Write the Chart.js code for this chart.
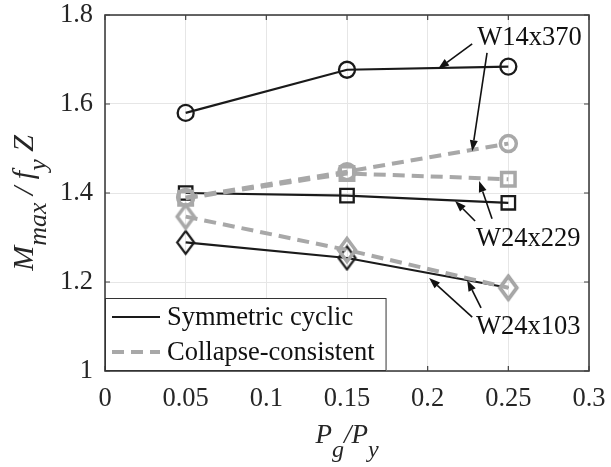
<!DOCTYPE html>
<html lang="en">
<head>
<meta charset="UTF-8">
<title>Mmax / fy Z versus Pg/Py</title>
<script src="https://cdn.jsdelivr.net/npm/chart.js@4.4.1/dist/chart.umd.min.js"></script>
<style>
    body { margin: 0; background: #fff; }
    #wrap { width: 611px; height: 467px; position: relative; }
</style>
</head>
<body>
<div id="wrap"><canvas id="chart"></canvas></div>
<script>
// axial load ratio Pg/Py for each test
const axialRatio = [0.05, 0.15, 0.25];

// Mmax / fy Z per section and loading protocol
const w14x370Sym = [1.580, 1.677, 1.684];
const w14x370Cc  = [1.390, 1.448, 1.511];
const w24x229Sym = [1.400, 1.394, 1.378];
const w24x229Cc  = [1.388, 1.444, 1.431];
const w24x103Sym = [1.289, 1.254, 1.187];
const w24x103Cc  = [1.347, 1.272, 1.187];

const xTicks = [0, 0.05, 0.1, 0.15, 0.2, 0.25, 0.3];
const yTicks = [1, 1.2, 1.4, 1.6, 1.8];

const protocols = ['Symmetric cyclic', 'Collapse-consistent'];
const sections = ['W14x370', 'W24x229', 'W24x103'];

// callouts in data units: label anchor, then arrows [tailX, tailY, headX, headY]
const callouts = [
    { text: 'W14x370', at: [0.2307, 1.748], arrows: [[0.2276, 1.735, 0.2065, 1.679], [0.2368, 1.715, 0.2276, 1.494]] },
    { text: 'W24x229', at: [0.2300, 1.297], arrows: [[0.2294, 1.337, 0.2170, 1.382], [0.2399, 1.342, 0.2319, 1.427]] },
    { text: 'W24x103', at: [0.2300, 1.099], arrows: [[0.2276, 1.121, 0.2009, 1.209], [0.2331, 1.142, 0.2245, 1.204]] }
];

const BLACK = '#1a1a1a';
const GRAY = '#a8a8a8';
const SERIF = '"Liberation Serif", "Times New Roman", serif';
const TEXT_SIZE = 26.5;

function pts(vals) {
    return axialRatio.map((x, i) => ({ x: x, y: vals[i] }));
}

// tall diamond marker, narrower than it is high
function diamond(color, lw) {
    const w = 17, h = 23;
    const c = document.createElement('canvas');
    c.width = w + lw * 2;
    c.height = h + lw * 2;
    const g = c.getContext('2d');
    const cx = c.width / 2, cy = c.height / 2;
    g.strokeStyle = color;
    g.lineWidth = lw;
    g.lineJoin = 'miter';
    g.beginPath();
    g.moveTo(cx, cy - h / 2);
    g.lineTo(cx + w / 2, cy);
    g.lineTo(cx, cy + h / 2);
    g.lineTo(cx - w / 2, cy);
    g.closePath();
    g.stroke();
    return c;
}

function symSet(label, vals, marker, radius) {
    return {
        label: label, data: pts(vals), order: 2,
        borderColor: BLACK, borderWidth: 2.2,
        pointStyle: marker, pointRadius: radius, pointBorderWidth: 2.3,
        pointBorderColor: BLACK, pointBackgroundColor: 'rgba(0,0,0,0)'
    };
}

function ccSet(label, vals, marker, radius) {
    return {
        label: label, data: pts(vals), order: 1,
        borderColor: GRAY, borderWidth: 4, borderDash: [12, 7],
        pointStyle: marker, pointRadius: radius, pointBorderWidth: 3.5,
        pointBorderColor: GRAY, pointBackgroundColor: 'rgba(0,0,0,0)'
    };
}

const datasets = [
    symSet(protocols[0] + ' ' + sections[0], w14x370Sym, 'circle', 8),
    ccSet(protocols[1] + ' ' + sections[0], w14x370Cc, 'circle', 8),
    symSet(protocols[0] + ' ' + sections[1], w24x229Sym, 'rect', 9.5),
    ccSet(protocols[1] + ' ' + sections[1], w24x229Cc, 'rect', 9.5),
    symSet(protocols[0] + ' ' + sections[2], w24x103Sym, diamond(BLACK, 2.2), 10),
    ccSet(protocols[1] + ' ' + sections[2], w24x103Cc, diamond(GRAY, 3.5), 10)
];

// draws a run of text pieces, some of them lowered as subscripts
function richText(ctx, parts, x, y, size, subSize, drop) {
    let total = 0;
    parts.forEach(p => {
        ctx.font = 'italic ' + (p.sub ? subSize : size) + 'px ' + SERIF;
        p.w = ctx.measureText(p.t).width;
        total += p.w;
    });
    let cx = x - total / 2;
    parts.forEach(p => {
        ctx.font = 'italic ' + (p.sub ? subSize : size) + 'px ' + SERIF;
        ctx.fillText(p.t, cx, y + (p.sub ? drop : 0));
        cx += p.w;
    });
}

function arrow(ctx, x1, y1, x2, y2) {
    const a = Math.atan2(y2 - y1, x2 - x1);
    const len = 11, half = 4;
    const bx = x2 - len * Math.cos(a), by = y2 - len * Math.sin(a);
    ctx.beginPath();
    ctx.moveTo(x1, y1);
    ctx.lineTo(bx, by);
    ctx.stroke();
    ctx.beginPath();
    ctx.moveTo(x2, y2);
    ctx.lineTo(bx - half * Math.sin(a), by + half * Math.cos(a));
    ctx.lineTo(bx + half * Math.sin(a), by - half * Math.cos(a));
    ctx.closePath();
    ctx.fill();
}

const decorations = {
    id: 'decorations',
    afterDatasetsDraw(chart) {
        const ctx = chart.ctx;
        const area = chart.chartArea;
        const xs = chart.scales.x, ys = chart.scales.y;
        ctx.save();

        // inward tick marks on all four sides, then the box
        ctx.strokeStyle = '#404040';
        ctx.lineWidth = 1.2;
        const tl = 5;
        ctx.beginPath();
        xTicks.forEach(v => {
            const px = xs.getPixelForValue(v);
            ctx.moveTo(px, area.bottom); ctx.lineTo(px, area.bottom - tl);
            ctx.moveTo(px, area.top); ctx.lineTo(px, area.top + tl);
        });
        yTicks.forEach(v => {
            const py = ys.getPixelForValue(v);
            ctx.moveTo(area.left, py); ctx.lineTo(area.left + tl, py);
            ctx.moveTo(area.right, py); ctx.lineTo(area.right - tl, py);
        });
        ctx.stroke();
        ctx.lineWidth = 1.6;
        ctx.strokeRect(area.left, area.top, area.right - area.left, area.bottom - area.top);

        // legend in the lower left corner
        ctx.font = TEXT_SIZE + 'px ' + SERIF;
        const textW = Math.max(...protocols.map(t => ctx.measureText(t).width));
        const sample = 48, padL = 7, gap = 7, padR = 12, rowH = 35;
        const lw = padL + sample + gap + textW + padR;
        const lh = 73;
        const lx = area.left, ly = area.bottom - lh;
        ctx.fillStyle = '#fff';
        ctx.fillRect(lx, ly, lw, lh);
        ctx.strokeStyle = '#333';
        ctx.lineWidth = 1;
        ctx.strokeRect(lx + 0.5, ly + 0.5, lw - 1, lh - 1);
        protocols.forEach((t, i) => {
            const cy = ly + 19 + i * rowH;
            const ds = datasets[i];
            ctx.strokeStyle = ds.borderColor;
            ctx.lineWidth = ds.borderWidth;
            ctx.setLineDash(ds.borderDash || []);
            ctx.beginPath();
            ctx.moveTo(lx + padL, cy);
            ctx.lineTo(lx + padL + sample, cy);
            ctx.stroke();
            ctx.setLineDash([]);
            ctx.fillStyle = '#111';
            ctx.textBaseline = 'middle';
            ctx.textAlign = 'left';
            ctx.fillText(t, lx + padL + sample + gap, cy + 1);
        });

        // section callouts with arrows
        ctx.fillStyle = '#111';
        ctx.strokeStyle = '#111';
        ctx.lineWidth = 1.6;
        ctx.textBaseline = 'middle';
        callouts.forEach(c => {
            ctx.font = TEXT_SIZE + 'px ' + SERIF;
            ctx.fillText(c.text, xs.getPixelForValue(c.at[0]), ys.getPixelForValue(c.at[1]));
            c.arrows.forEach(a => {
                arrow(ctx, xs.getPixelForValue(a[0]), ys.getPixelForValue(a[1]),
                      xs.getPixelForValue(a[2]), ys.getPixelForValue(a[3]));
            });
        });
        ctx.restore();
    },
    afterDraw(chart) {
        const ctx = chart.ctx;
        const area = chart.chartArea;
        ctx.save();
        ctx.fillStyle = '#262626';
        ctx.textBaseline = 'alphabetic';
        ctx.textAlign = 'left';
        // x axis title: Pg/Py
        richText(ctx, [{ t: 'P' }, { t: 'g', sub: true }, { t: '/P' }, { t: 'y', sub: true }],
                 (area.left + area.right) / 2, 443, 27, 24, 14);
        // y axis title: Mmax / fy Z
        ctx.translate(33, (area.top + area.bottom) / 2 + 10);
        ctx.rotate(-Math.PI / 2);
        richText(ctx, [{ t: 'M' }, { t: 'max', sub: true }, { t: ' / f' }, { t: 'y', sub: true }, { t: ' Z' }],
                 0, 0, 30, 26, 13);
        ctx.restore();
    }
};

const tickFont = { family: SERIF, size: TEXT_SIZE };

new Chart(document.getElementById('chart'), {
    type: 'line',
    data: { datasets: datasets },
    options: {
        responsive: true,
        maintainAspectRatio: false,
        animation: false,
        events: [],
        layout: { padding: { top: 15, right: 22, left: 0, bottom: 0 } },
        plugins: { legend: { display: false }, tooltip: { enabled: false } },
        scales: {
            x: {
                type: 'linear', min: 0, max: 0.3,
                afterBuildTicks: s => { s.ticks = xTicks.map(v => ({ value: v })); },
                afterFit: s => { s.height = 96; s.paddingLeft = 0; s.paddingRight = 0; },
                grid: { color: '#e6e6e6', lineWidth: 1, drawTicks: false },
                border: { display: false },
                ticks: { font: tickFont, color: '#262626', padding: 12, maxRotation: 0, callback: v => String(v) }
            },
            y: {
                type: 'linear', min: 1, max: 1.8,
                afterBuildTicks: s => { s.ticks = yTicks.map(v => ({ value: v })); },
                afterFit: s => { s.width = 105; s.paddingTop = 0; s.paddingBottom = 0; },
                grid: { color: '#e6e6e6', lineWidth: 1, drawTicks: false },
                border: { display: false },
                ticks: { font: tickFont, color: '#262626', padding: 12, callback: v => String(v) }
            }
        }
    },
    plugins: [decorations]
});
</script>
</body>
</html>
